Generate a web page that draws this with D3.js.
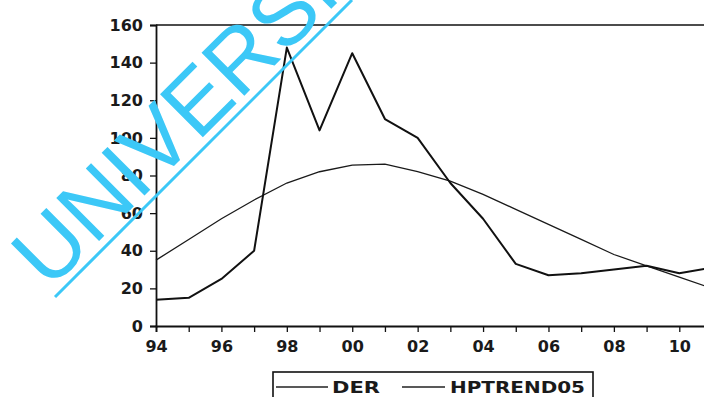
<!DOCTYPE html>
<html>
<head>
<meta charset="utf-8">
<script src="https://cdn.jsdelivr.net/npm/d3@7"></script>
<style>
  body { margin: 0; background: #fff; }
  svg { display: block; }
  .tick text { font-family: "DejaVu Sans", sans-serif; font-weight: bold; font-size: 16px; fill: #1a1a1a; }
</style>
</head>
<body>
<div id="chart"></div>
<script>
const years = [1994, 1995, 1996, 1997, 1998, 1999, 2000, 2001, 2002, 2003,
               2004, 2005, 2006, 2007, 2008, 2009, 2010, 2011];
const der = [14, 15, 25, 40, 148, 104, 145, 110, 100, 76,
             57, 33, 27, 28, 30, 32, 28, 31];
const hptrend05 = [35, 46, 57, 67, 76, 82, 85.5, 86, 82, 77,
                   70, 62, 54, 46, 38, 32, 26, 20];
const yTicks = [0, 20, 40, 60, 80, 100, 120, 140, 160];
const xLabelYears = [1994, 1996, 1998, 2000, 2002, 2004, 2006, 2008, 2010];
const legendNames = ['DER', 'HPTREND05'];

const width = 704, height = 397;

const svg = d3.select('#chart').append('svg')
  .attr('width', width)
  .attr('height', height);

const x = d3.scaleLinear().domain([1994, 2011]).range([156, 712]);
const y = d3.scaleLinear().domain([0, 160]).range([326, 25]);

// top frame
svg.append('line')
  .attr('x1', x(1994)).attr('x2', x(2011))
  .attr('y1', y(160)).attr('y2', y(160))
  .attr('stroke', '#111').attr('stroke-width', 1.6);

// y axis
const yAxis = svg.append('g')
  .attr('transform', 'translate(' + x(1994) + ',0)')
  .call(d3.axisLeft(y).tickValues(yTicks).tickSize(6).tickPadding(7));

// x axis: a tick every year, a label every second year
const xAxis = svg.append('g')
  .attr('transform', 'translate(0,' + y(0) + ')')
  .call(d3.axisBottom(x)
    .tickValues(years)
    .tickSize(6)
    .tickPadding(6)
    .tickFormat(d => xLabelYears.includes(d) ? String(d).slice(2) : ''));

[yAxis, xAxis].forEach(ax => {
  ax.select('.domain').attr('stroke', '#111').attr('stroke-width', 1.8);
  ax.selectAll('.tick line').attr('stroke', '#111').attr('stroke-width', 1.3);
});
xAxis.selectAll('.tick text').attr('dy', '0.85em');

const line = d3.line()
  .x((d, i) => x(years[i]))
  .y(d => y(d));

svg.append('path')
  .datum(hptrend05)
  .attr('fill', 'none')
  .attr('stroke', '#1a1a1a')
  .attr('stroke-width', 1.3)
  .attr('d', line);

svg.append('path')
  .datum(der)
  .attr('fill', 'none')
  .attr('stroke', '#111')
  .attr('stroke-width', 2)
  .attr('stroke-linejoin', 'round')
  .attr('d', line);

// legend
const legend = svg.append('g');
legend.append('rect')
  .attr('x', 273).attr('y', 372)
  .attr('width', 320).attr('height', 40)
  .attr('fill', 'none').attr('stroke', '#111').attr('stroke-width', 1.6);

const legendItems = [
  { name: legendNames[0], x1: 276, x2: 328, tx: 332, tl: 48, sw: 1.6 },
  { name: legendNames[1], x1: 402, x2: 445, tx: 450, tl: 135, sw: 1.3 }
];
legendItems.forEach(it => {
  legend.append('line')
    .attr('x1', it.x1).attr('x2', it.x2)
    .attr('y1', 387).attr('y2', 387)
    .attr('stroke', '#222').attr('stroke-width', it.sw);
  legend.append('text')
    .attr('x', it.tx).attr('y', 393)
    .attr('textLength', it.tl)
    .attr('lengthAdjust', 'spacingAndGlyphs')
    .style('font-family', '"DejaVu Sans", sans-serif')
    .style('font-weight', 'bold')
    .style('font-size', '16px')
    .attr('fill', '#1a1a1a')
    .text(it.name);
});

// watermark
const mark = svg.append('g').attr('pointer-events', 'none');
mark.append('text')
  .attr('transform', 'translate(49,291) rotate(-45)')
  .style('font-family', '"Liberation Sans", Arial, sans-serif')
  .style('font-size', '88px')
  .attr('fill', '#3cc8f7')
  .text('UNIVERSITY');
mark.append('line')
  .attr('x1', 55).attr('y1', 297)
  .attr('x2', 352).attr('y2', 0)
  .attr('stroke', '#3cc8f7').attr('stroke-width', 3);
</script>
</body>
</html>
